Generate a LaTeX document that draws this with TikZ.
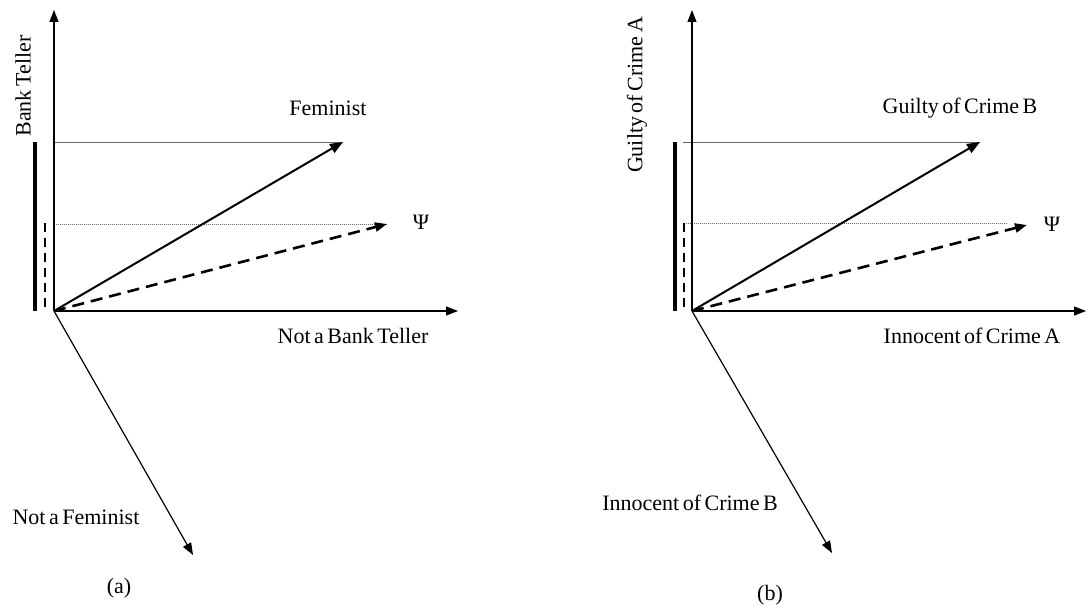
\documentclass[tikz,border=0pt]{standalone}
\usepackage{fontspec}
\setmainfont{Liberation Serif}
\usetikzlibrary{arrows.meta}
\newcommand\mylblfont{\fontsize{22}{24}\selectfont\spaceskip=3.5pt plus 1pt\relax}
\begin{document}
\begin{tikzpicture}[x=1pt,y=-1pt,
  axis/.style={line width=1.2pt,-{Triangle[length=12pt,width=9pt]}},
  vec/.style={line width=2pt,-{Triangle[length=13pt,width=10pt]}},
  dvec/.style={line width=2.6pt,dash pattern=on 12pt off 7pt,-{Triangle[length=12pt,width=9pt]}},
  thinarrow/.style={line width=1.2pt,-{Triangle[length=12pt,width=9pt]}},
  guide/.style={black!60,line width=0.7pt},
  dguide/.style={black!60,line width=0.7pt,dash pattern=on 1pt off 1pt},
  bar/.style={line width=3.8pt},
  dbar/.style={line width=2.6pt,dash pattern=on 9pt off 6pt},
  lbl/.style={font=\mylblfont,inner sep=0pt}]
\useasboundingbox (0,0) rectangle (1086,609);
% ---------- panel (a) ----------
\coordinate (Oa) at (54,311);
\coordinate (Ya) at (54,10);
\coordinate (Xa) at (458,311);
\coordinate (Fa) at (343,142);
\coordinate (Pa) at (387,224);
\coordinate (Na) at (193,555);
\coordinate (Ga1) at (54,142);
\coordinate (Ga2) at (54,224);
\coordinate (Ba1) at (35,142);
\coordinate (Ba2) at (35,311);
\coordinate (Da1) at (45,223);
\coordinate (Da2) at (45,311);
\draw[guide] (Ga1) -- (Fa);
\draw[dguide] (Ga2) -- (Pa);
\draw[axis] (Oa) -- (Ya);
\draw[axis] (Oa) -- (Xa);
\draw[thinarrow] (Oa) -- (Na);
\draw[vec] (Oa) -- (Fa);
\draw[dvec] (Oa) -- (Pa);
\draw[bar] (Ba1) -- (Ba2);
\draw[dbar] (Da1) -- (Da2);
\node[lbl,rotate=90] (bt) at (23,86) {Bank Teller};
\node[lbl] (fem) at (328,108) {Feminist};
\node[lbl] (psia) at (421,222) {Ψ};
\node[lbl] (nbt) at (353,336) {Not a Bank Teller};
\node[lbl] (nf) at (76,517) {Not a Feminist};
\node[lbl] (capa) at (119,588) {(a)};
% ---------- panel (b) ----------
\coordinate (Ob) at (692,311);
\coordinate (Yb) at (692,10);
\coordinate (Xb) at (1086,311);
\coordinate (Fb) at (980,142);
\coordinate (Pb) at (1027,225);
\coordinate (Nb) at (832,553);
\coordinate (Gb1) at (683,142);
\coordinate (Gb2) at (684,223);
\coordinate (Gb3) at (1007,223);
\coordinate (Bb1) at (675,142);
\coordinate (Bb2) at (675,311);
\coordinate (Db2) at (684,311);
\draw[guide] (Gb1) -- (Fb);
\draw[dguide] (Gb2) -- (Gb3);
\draw[axis] (Ob) -- (Yb);
\draw[axis] (Ob) -- (Xb);
\draw[thinarrow] (Ob) -- (Nb);
\draw[vec] (Ob) -- (Fb);
\draw[dvec] (Ob) -- (Pb);
\draw[bar] (Bb1) -- (Bb2);
\draw[dbar] (Gb2) -- (Db2);
\node[lbl,rotate=90] (ga) at (637,95) {Guilty of Crime A};
\node[lbl] (gb) at (960,108) {Guilty of Crime B};
\node[lbl] (psib) at (1052,224) {Ψ};
\node[lbl] (ia) at (972,336) {Innocent of Crime A};
\node[lbl] (ib) at (690,503) {Innocent of Crime B};
\node[lbl] (capb) at (770,595) {(b)};
\end{tikzpicture}
\end{document}
